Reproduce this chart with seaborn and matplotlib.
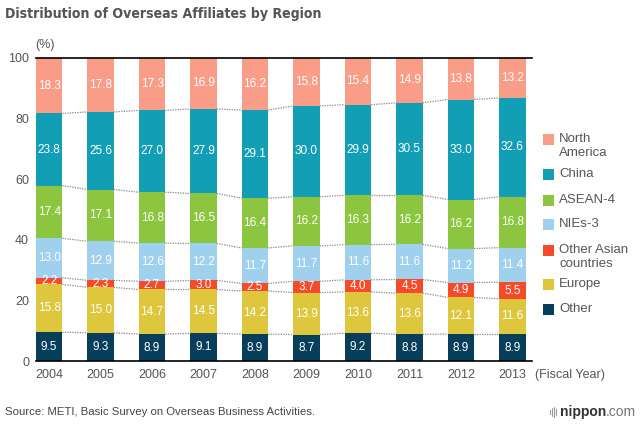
import seaborn as sns
import matplotlib.pyplot as plt
import matplotlib.patches as mpatches
import matplotlib.lines as mlines
from matplotlib import font_manager
import pandas as pd

years = ["2004", "2005", "2006", "2007", "2008", "2009", "2010", "2011", "2012", "2013"]
other = [9.5, 9.3, 8.9, 9.1, 8.9, 8.7, 9.2, 8.8, 8.9, 8.9]
europe = [15.8, 15.0, 14.7, 14.5, 14.2, 13.9, 13.6, 13.6, 12.1, 11.6]
other_asia = [2.2, 2.3, 2.7, 3.0, 2.5, 3.7, 4.0, 4.5, 4.9, 5.5]
nies3 = [13.0, 12.9, 12.6, 12.2, 11.7, 11.7, 11.6, 11.6, 11.2, 11.4]
asean4 = [17.4, 17.1, 16.8, 16.5, 16.4, 16.2, 16.3, 16.2, 16.2, 16.8]
china = [23.8, 25.6, 27.0, 27.9, 29.1, 30.0, 29.9, 30.5, 33.0, 32.6]
north_america = [18.3, 17.8, 17.3, 16.9, 16.2, 15.8, 15.4, 14.9, 13.8, 13.2]
total = 100  # shares add up to 100%

# bottom to top
layers = ["Other", "Europe", "Other Asian\ncountries", "NIEs-3", "ASEAN-4", "China", "North\nAmerica"]
colors = ["#073f5b", "#dec63d", "#f64a2b", "#9fd1ef", "#8cc640", "#129fb6", "#f99d89"]

df = pd.DataFrame({
    "Year": years,
    "Other": other,
    "Europe": europe,
    "Other Asian\ncountries": other_asia,
    "NIEs-3": nies3,
    "ASEAN-4": asean4,
    "China": china,
    "North\nAmerica": north_america,
})
cum = df[layers].cumsum(axis=1)
# top layer fills up to 100% (rounding in the source figures)
cum[layers[-1]] = total

sns.set_theme(style="white")
plt.rcParams['font.family'] = ['Liberation Sans', 'DejaVu Sans']

fig = plt.figure(figsize=(6.4, 4.24), dpi=100)
ax = fig.add_axes([36 / 640, 1 - 361 / 424, 496 / 640, 303 / 424])

w = 0.51
# draw cumulative totals from the top down so each layer covers the one above
for name, color in reversed(list(zip(layers, colors))):
    sns.barplot(x=df["Year"], y=cum[name], color=color, width=w,
                saturation=1, edgecolor="none", ax=ax)

# value labels
for k, name in enumerate(layers):
    for i in range(len(years)):
        v = df[name][i]
        lo = cum[layers[k - 1]][i] if k > 0 else 0
        ax.text(i, (lo + cum[name][i]) / 2, f"{v:.1f}", color="white",
                ha="center", va="center", fontsize=8.5)

# dotted connectors between bars
for name in layers[:-1]:
    for i in range(len(years) - 1):
        ax.plot([i + w / 2, i + 1 - w / 2], [cum[name][i], cum[name][i + 1]],
                ls=(0, (1, 1)), color="#888888", lw=0.9)

ax.set_xlim(-w / 2, 9.38)
ax.set_ylim(0, 100)
ax.set_yticks(range(0, 101, 20))
ax.set_xlabel("")
ax.set_ylabel("")
for s in ["left", "right"]:
    ax.spines[s].set_visible(False)
for s in ["top", "bottom"]:
    ax.spines[s].set_color("black")
    ax.spines[s].set_linewidth(1.2)
ax.tick_params(length=0, labelsize=9, labelcolor="#555555")
ax.tick_params(axis="x", pad=6)
ax.tick_params(axis="y", pad=5)

# title: use a condensed face if one is installed, otherwise shrink to fit
title = "Distribution of Overseas Affiliates by Region"
t = fig.text(5 / 640, 1 - 14 / 424, title, fontsize=13.5, fontweight="bold",
             color="#555555", va="center")
cond = [f for f in font_manager.fontManager.ttflist
        if f.weight in (700, "bold") and ("Narrow" in f.name or "ondensed" in str(f.stretch)
                                          or "Condensed" in f.name)]
if cond:
    t.set_fontproperties(font_manager.FontProperties(fname=cond[0].fname, size=13.5))
fig.canvas.draw()
tw = t.get_window_extent().width
if tw > 320:
    t.set_fontsize(t.get_fontsize() * 318 / tw)

fig.text(35 / 640, 1 - 45 / 424, "(%)", fontsize=9, color="#555555", va="center")
fig.text(535 / 640, 1 - 375 / 424, "(Fiscal Year)", fontsize=9, color="#555555", va="center")

# legend
leg_y = {"North\nAmerica": 146, "China": 174, "ASEAN-4": 200, "NIEs-3": 224,
         "Other Asian\ncountries": 257, "Europe": 284, "Other": 309}
sq_y = {"North\nAmerica": 139, "Other Asian\ncountries": 250}
for name, color in zip(layers, colors):
    yc = sq_y.get(name, leg_y[name])
    fig.add_artist(mpatches.Rectangle((543 / 640, 1 - (yc + 5.5) / 424), 11 / 640, 11 / 424,
                                      transform=fig.transFigure, color=color, lw=0))
    fig.text(559 / 640, 1 - leg_y[name] / 424, name, fontsize=9.5, color="#555555",
             va="center", linespacing=1.2)

fig.text(5 / 640, 1 - 412 / 424, "Source: METI, Basic Survey on Overseas Business Activities.",
         fontsize=8.2, color="#444444", va="center")

# logo
t2 = fig.text(636 / 640, 1 - 412 / 424, ".com", fontsize=10, color="#777777",
              va="center", ha="right")
fig.canvas.draw()
x_com = t2.get_window_extent().x0
t1 = fig.text(x_com / 640, 1 - 412 / 424, "nippon", fontsize=10, fontweight="bold",
              color="#333333", va="center", ha="right")
fig.canvas.draw()
x_nip = t1.get_window_extent().x0
for k in range(4):
    x = (x_nip - 10 + k * 2) / 640
    h = [4, 8, 10, 6][k]
    fig.add_artist(mlines.Line2D([x, x], [1 - (412 + h / 2) / 424, 1 - (412 - h / 2) / 424],
                                 transform=fig.transFigure, color="#999999", lw=0.8))

fig.savefig("out.png", dpi=100)
